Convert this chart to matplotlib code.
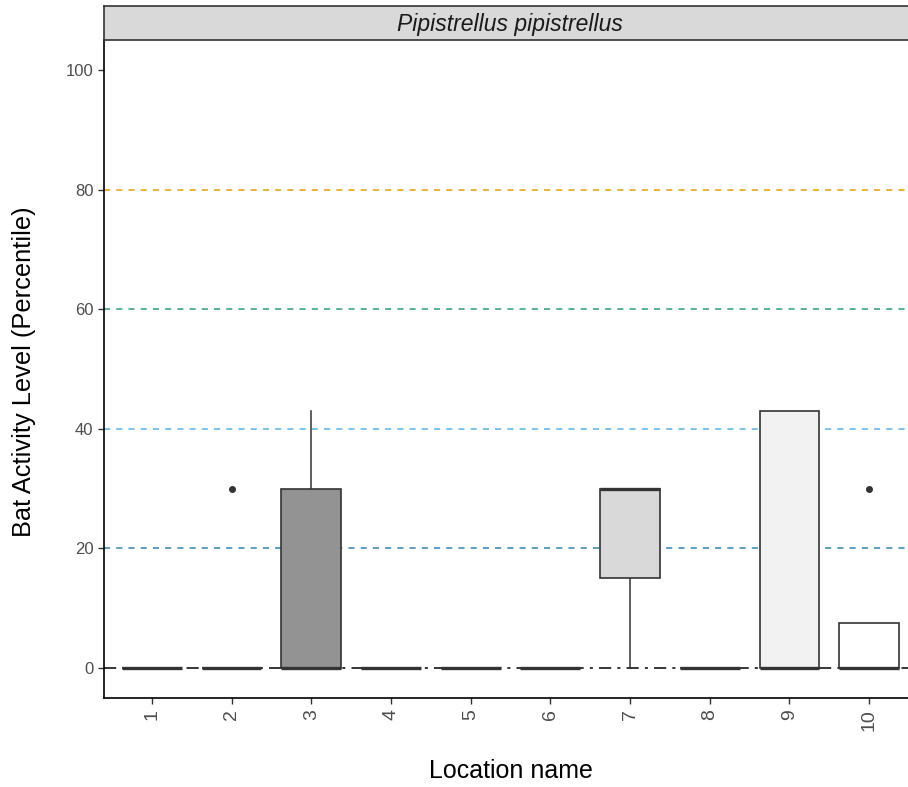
import matplotlib.pyplot as plt
from matplotlib.patches import Rectangle

plt.rcParams['font.family'] = ['Liberation Sans', 'DejaVu Sans']

# box statistics per location
locations = ['1', '2', '3', '4', '5', '6', '7', '8', '9', '10']
q1 = [0, 0, 0, 0, 0, 0, 15, 0, 0, 0]
median = [0, 0, 0, 0, 0, 0, 30, 0, 0, 0]
q3 = [0, 0, 30, 0, 0, 0, 30, 0, 43, 7.5]
whisker_low = [0, 0, 0, 0, 0, 0, 0, 0, 0, 0]
whisker_high = [0, 0, 43, 0, 0, 0, 30, 0, 43, 7.5]
outliers = [[], [30], [], [], [], [], [], [], [], [30]]
fills = ['#1a1a1a', '#404040', '#939393', '#a8a8a8', '#b5b5b5',
         '#c4c4c4', '#d9d9d9', '#e4e4e4', '#f2f2f2', '#ffffff']

thresholds = [80, 60, 40, 20]
threshold_colors = ['#E69F00', '#2a9d80', '#56B4E9', '#2f84b5']

fig = plt.figure(figsize=(9.08, 7.87), dpi=100)
W, H = 908, 787
# panel spans x 0.4..10.6 ; right side runs off the image
left_px, right_px = 104, 917
top_px, bottom_px = 40, 698
ax = fig.add_axes([left_px / W, 1 - bottom_px / H,
                   (right_px - left_px) / W, (bottom_px - top_px) / H])

for y, c in zip(thresholds, threshold_colors):
    ax.axhline(y, color=c, lw=1.1, ls=(0, (4, 4)), zorder=1)
ax.axhline(0, color='black', lw=1.1, ls=(0, (8, 4, 2, 4)), zorder=1)

bw = 0.75
for i, loc in enumerate(locations):
    x = i + 1
    ax.plot([x, x], [whisker_low[i], q1[i]], color='#333333', lw=1.1, zorder=2)
    ax.plot([x, x], [q3[i], whisker_high[i]], color='#333333', lw=1.1, zorder=2)
    ax.add_patch(Rectangle((x - bw / 2, q1[i]), bw, q3[i] - q1[i],
                           facecolor=fills[i], edgecolor='#333333', lw=1.2, zorder=3))
    ax.plot([x - bw / 2, x + bw / 2], [median[i], median[i]],
            color='#333333', lw=2.4, solid_capstyle='butt', zorder=4)
    for o in outliers[i]:
        ax.plot(x, o, 'o', color='#333333', ms=4, zorder=5)

ax.set_xlim(0.4, 10.6)
ax.set_ylim(-5, 105)
ax.set_xticks(range(1, len(locations) + 1))
ax.set_xticklabels(locations, rotation=90, fontsize=14, color='#4d4d4d')
ax.set_yticks([0, 20, 40, 60, 80, 100])
ax.set_yticklabels(['0', '20', '40', '60', '80', '100'], fontsize=12, color='#4d4d4d')
ax.tick_params(axis='both', length=4, width=1, color='#333333')
ax.tick_params(axis='x', pad=4)
for s in ['top', 'right']:
    ax.spines[s].set_visible(False)
for s in ['left', 'bottom']:
    ax.spines[s].set_color('black')
    ax.spines[s].set_linewidth(1.2)

fig.text(511 / W, 1 - 771 / H, 'Location name', fontsize=18,
         ha='center', va='center')
fig.text(24 / W, 1 - 372 / H, 'Bat Activity Level (Percentile)', fontsize=18.3,
         rotation=90, ha='center', va='center')

# facet strip
strip = fig.add_axes([left_px / W, 1 - top_px / H,
                      (right_px - left_px) / W, 34 / H])
strip.set_facecolor('#d9d9d9')
strip.set_xticks([])
strip.set_yticks([])
for s in strip.spines.values():
    s.set_color('#333333')
    s.set_linewidth(1.2)
strip.text(510 / W, 1 - 24 / H, 'Pipistrellus pipistrellus', transform=fig.transFigure,
           fontsize=16.5, style='italic', ha='center', va='center', color='#1a1a1a')

fig.savefig('out.png', dpi=100)
